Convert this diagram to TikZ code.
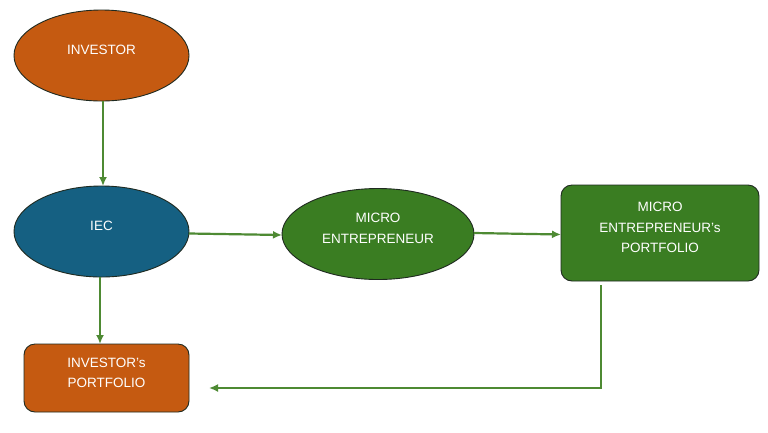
\documentclass[tikz,border=0pt]{standalone}
\usepackage{fontspec}
\setmainfont{Liberation Sans}
\usetikzlibrary{shapes.geometric,arrows.meta}
\definecolor{orng}{HTML}{C55A11}
\definecolor{blu}{HTML}{156082}
\definecolor{grn}{HTML}{3A7D22}
\definecolor{arr}{HTML}{4E8A33}
\definecolor{edge}{HTML}{1F2A20}
\tikzset{
  lbl/.style={text=white, font=\fontsize{13.5}{20.5}\selectfont, align=center},
  ell/.style={ellipse, draw=edge, line width=0.9pt, inner sep=0pt},
  rbox/.style={rectangle, rounded corners=11pt, draw=edge, line width=0.9pt, inner sep=0pt},
  conn/.style={draw=arr, line width=2.2pt, -{Latex[length=9pt,width=8pt]}},
}
\begin{document}
\begin{tikzpicture}[x=1pt,y=-1pt]
\useasboundingbox (0,0) rectangle (768,432);
\fill[white] (0,0) rectangle (768,432);
% shapes
\node[ell, fill=orng, minimum width=175pt, minimum height=91pt] (inv) at (101.5,55.5) {};
\node[ell, fill=blu, minimum width=175pt, minimum height=91pt] (iec) at (101.5,231.5) {};
\node[ell, fill=grn, minimum width=192pt, minimum height=91pt] (me) at (378,234) {};
\node[rbox, fill=grn, minimum width=198pt, minimum height=96pt] (mep) at (660,233) {};
\node[rbox, fill=orng, minimum width=165pt, minimum height=68pt] (ip) at (106.5,378) {};
% labels
\node[lbl] (invt) at (101.5,49.5) {INVESTOR};
\node[lbl] (iect) at (101.5,226) {IEC};
\node[lbl] (met) at (378,228.5) {MICRO\\ENTREPRENEUR};
\node[lbl] (mept) at (660,227.5) {MICRO\\ENTREPRENEUR’s\\PORTFOLIO};
\node[lbl] (ipt) at (106.5,373) {INVESTOR’s\\PORTFOLIO};
% connectors
\coordinate (a1) at (103,101);
\coordinate (a2) at (103,186);
\draw[conn] (a1) -- (a2);
\coordinate (b1) at (100,277);
\coordinate (b2) at (100,344);
\draw[conn] (b1) -- (b2);
\coordinate (c1) at (189,233.5);
\coordinate (c2) at (282,235);
\draw[conn] (c1) -- (c2);
\coordinate (d1) at (474,233);
\coordinate (d2) at (561,234.5);
\draw[conn] (d1) -- (d2);
\coordinate (e1) at (601,285);
\coordinate (e2) at (601,388);
\coordinate (e3) at (209,388);
\draw[conn] (e1) -- (e2) -- (e3);
\end{tikzpicture}
\end{document}
